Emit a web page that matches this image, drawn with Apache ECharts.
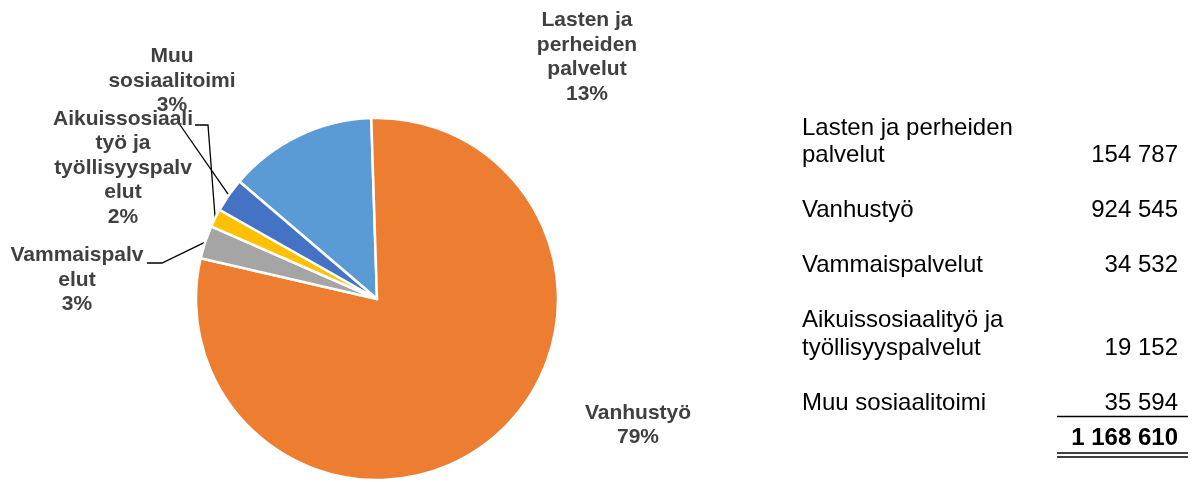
<!DOCTYPE html>
<html><head><meta charset="utf-8">
<script src="https://cdn.jsdelivr.net/npm/echarts@6/dist/echarts.min.js"></script>
<style>html,body{margin:0;padding:0;background:#fff}#c{width:1196px;height:482px}</style>
</head><body><div id="c"></div>
<script>
const categories = ['Lasten ja perheiden palvelut','Vanhustyö','Vammaispalvelut','Aikuissosiaalityö ja työllisyyspalvelut','Muu sosiaalitoimi'];
const values = [154787, 924545, 34532, 19152, 35594];
const pieLabels = ['Lasten ja\nperheiden\npalvelut','Vanhustyö','Vammaispalv\nelut','Aikuissosiaali\ntyö ja\ntyöllisyyspalv\nelut','Muu\nsosiaalitoimi'];
const tableLabels = ['Lasten ja perheiden\npalvelut','Vanhustyö','Vammaispalvelut','Aikuissosiaalityö ja\ntyöllisyyspalvelut','Muu sosiaalitoimi'];
const colors = ['#5B9BD5','#ED7D31','#A5A5A5','#FFC000','#4472C4'];
// label placement (layout only)
const labelPos = [[587,57],[638,425],[77,280],[123,168],[172,81]];
// leader line bends after the slice anchor (layout only)
const leaderBends = [null, null, [[162,263],[147,263]], [[208,125],[195,125]], [[178,122]]];

function fmt(n){ return String(n).replace(/\B(?=(\d{3})+(?!\d))/g,' '); }
const total = values.reduce((a,b)=>a+b,0);

const chart = echarts.init(document.getElementById('c'), null, {renderer:'canvas'});

const g = [];
const FONT = '"Liberation Sans", Arial, sans-serif';
let y = 128;
const lh = 27.5;
tableLabels.forEach((lab,i)=>{
  const lines = lab.split('\n');
  lines.forEach((ln,k)=>{
    g.push({type:'text', x:802, y:y, style:{text:ln, font:'24px '+FONT, fill:'#000', textAlign:'left', textVerticalAlign:'middle'}});
    if(k===lines.length-1){
      g.push({type:'text', x:1178, y:y, style:{text:fmt(values[i]), font:'24px '+FONT, fill:'#000', textAlign:'right', textVerticalAlign:'middle'}});
    }
    if(k<lines.length-1) y+=lh;
  });
  if(i<tableLabels.length-1) y+=55;
});
const lastY = y;
g.push({type:'line', shape:{x1:1057,y1:lastY+13.5,x2:1188,y2:lastY+13.5}, style:{stroke:'#000', lineWidth:1.3}});
const totY = lastY+35.5;
g.push({type:'text', x:1178, y:totY, style:{text:fmt(total), font:'bold 24px '+FONT, fill:'#000', textAlign:'right', textVerticalAlign:'middle'}});
g.push({type:'line', shape:{x1:1057,y1:totY+14.5,x2:1188,y2:totY+14.5}, style:{stroke:'#000', lineWidth:1.3}});
g.push({type:'line', shape:{x1:1057,y1:totY+18.5,x2:1188,y2:totY+18.5}, style:{stroke:'#000', lineWidth:1.3}});

const data = categories.map((c,i)=>({
  name:c, value:values[i],
  itemStyle:{color:colors[i]},
  labelLine:{show:!!leaderBends[i]}
}));

chart.setOption({
  animation:false,
  graphic:g,
  series:[{
    type:'pie',
    center:[377,299],
    radius:181,
    startAngle:139.5,
    clockwise:true,
    avoidLabelOverlap:false,
    itemStyle:{borderColor:'#fff', borderWidth:2.5},
    label:{
      show:true, position:'outside',
      formatter:p=>pieLabels[p.dataIndex]+'\n'+Math.round(p.percent)+'%',
      fontFamily:FONT, fontWeight:'bold', fontSize:21, lineHeight:24.5, color:'#404040', align:'center'
    },
    labelLine:{show:true, length:10, length2:10, lineStyle:{color:'#000', width:1.3}},
    labelLayout:function(p){
      const i = p.dataIndex;
      const pos = labelPos[i];
      const out = {x:pos[0], y:pos[1], align:'center', verticalAlign:'middle'};
      if(leaderBends[i] && p.labelLinePoints && p.labelLinePoints.length){
        out.labelLinePoints = [p.labelLinePoints[0].slice()].concat(leaderBends[i]);
      }
      return out;
    },
    data:data
  }]
});
</script></body></html>
